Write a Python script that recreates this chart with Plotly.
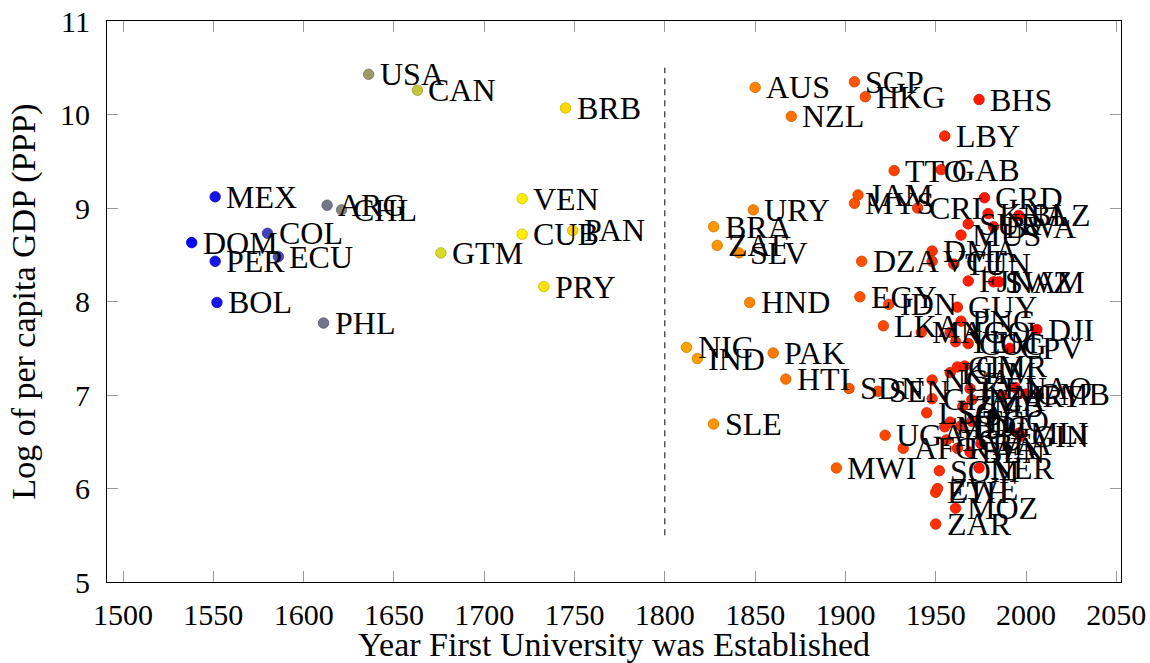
import plotly.graph_objects as go

# Country codes, founding year of the first university, log GDP per capita (PPP)
countries = [
    "DOM", "MEX", "PER", "BOL", "COL", "ECU", "PHL", "ARG", "CHL", "USA",
    "CAN", "GTM", "VEN", "CUB", "PRY", "BRB", "PAN", "NIC", "IND", "SLE",
    "BRA", "ZAF", "SLV", "HND", "URY", "AUS", "PAK", "HTI", "NZL", "MWI",
    "SDN", "MYS", "SGP", "JAM", "EGY", "DZA", "HKG", "SEN", "LKA", "UGA",
    "IDN", "TTO", "AFG", "CRI", "MNG", "LSO", "NGA", "GHA", "DMA", "VCT",
    "ETH", "ZAR", "ZWE", "SOM", "GAB", "MDG", "LBY", "TCD", "AGO", "NPL",
    "KHM", "TUN", "YEM", "MOZ", "GUY", "CIV", "RWA", "BDI", "PNG", "MUS",
    "ZMB", "CMR", "SUR", "FJI", "COG", "KEN", "BEN", "TZA", "TGO", "NER",
    "BHS", "BFA", "GRD", "KNA", "BWA", "SWZ", "NAM", "MRT", "CPV", "LAO",
    "MLI", "BLZ", "GIN", "GMB", "DJI",
]
first_university_year = [
    1538, 1551, 1551, 1552, 1580, 1586, 1611, 1613, 1621, 1636,
    1663, 1676, 1721, 1721, 1733, 1745, 1749, 1812, 1818, 1827,
    1827, 1829, 1841, 1847, 1849, 1850, 1860, 1867, 1870, 1895,
    1902, 1905, 1905, 1907, 1908, 1909, 1911, 1918, 1921, 1922,
    1924, 1927, 1932, 1940, 1942, 1945, 1948, 1948, 1948, 1948,
    1950, 1950, 1951, 1952, 1953, 1955, 1955, 1956, 1958, 1958,
    1958, 1960, 1961, 1961, 1962, 1962, 1962, 1964, 1964, 1964,
    1965, 1966, 1968, 1968, 1968, 1969, 1969, 1970, 1970, 1974,
    1974, 1975, 1977, 1979, 1982, 1982, 1985, 1987, 1991, 1994,
    1996, 1996, 1997, 2000, 2006,
]
log_gdp_ppp = [
    8.63, 9.12, 8.43, 7.99, 8.73, 8.48, 7.77, 9.03, 8.98, 10.43,
    10.26, 8.52, 9.10, 8.72, 8.16, 10.07, 8.76, 7.51, 7.39, 6.69,
    8.80, 8.60, 8.52, 7.99, 8.98, 10.29, 7.45, 7.17, 9.98, 6.22,
    7.07, 9.05, 10.35, 9.14, 8.05, 8.43, 10.19, 7.04, 7.74, 6.57,
    7.97, 9.40, 6.43, 9.00, 7.67, 6.81, 7.16, 6.96, 8.54, 8.43,
    5.96, 5.62, 6.00, 6.19, 9.41, 6.66, 9.77, 6.52, 7.67, 6.71,
    7.24, 8.40, 7.57, 5.79, 7.94, 7.30, 6.43, 6.67, 7.79, 8.71,
    6.88, 7.31, 8.83, 8.22, 7.55, 7.07, 6.39, 6.95, 6.72, 6.22,
    10.16, 6.48, 9.11, 8.94, 8.80, 8.21, 8.21, 6.99, 7.50, 7.08,
    6.59, 8.92, 6.56, 7.01, 7.70,
]

# Dashed divider at 1800
divider_year = [1800, 1800]
divider_gdp = [5.5, 10.5]

x_ticks = [1500, 1550, 1600, 1650, 1700, 1750, 1800, 1850, 1900, 1950, 2000, 2050]
y_ticks = [5, 6, 7, 8, 9, 10, 11]

# Colour map over the founding year: blue -> yellow -> red
yr_lo, yr_mid, yr_hi = 1538, 1700, 2006
mid_pos = (yr_mid - yr_lo) / (yr_hi - yr_lo)
fill_scale = [[0.0, "rgb(0,0,255)"], [mid_pos, "rgb(255,255,0)"], [1.0, "rgb(255,0,0)"]]
edge_scale = [[0.0, "rgb(0,0,204)"], [mid_pos, "rgb(204,204,0)"], [1.0, "rgb(204,0,0)"]]

FONT = "Liberation Serif"

fig = go.Figure()

fig.add_trace(go.Scatter(
    x=divider_year, y=divider_gdp, mode="lines",
    line=dict(color="black", width=1, dash="6px,5px"),
    hoverinfo="skip", showlegend=False,
))

fig.add_trace(go.Scatter(
    x=first_university_year, y=log_gdp_ppp, mode="markers",
    text=countries,
    marker=dict(
        size=10.5,
        color=first_university_year, colorscale=fill_scale, cmin=yr_lo, cmax=yr_hi,
        line=dict(width=0.8, color=first_university_year, colorscale=edge_scale,
                  cmin=yr_lo, cmax=yr_hi),
    ),
    showlegend=False,
))

annotations = [
    dict(x=xv, y=yv, text=code, xref="x", yref="y", xanchor="left", yanchor="middle",
         xshift=9, yshift=0, showarrow=False,
         font=dict(family=FONT, size=32, color="black"))
    for code, xv, yv in zip(countries, first_university_year, log_gdp_ppp)
]

axis_common = dict(
    showline=True, linecolor="black", linewidth=1.2, mirror="allticks",
    ticks="inside", ticklen=11, tickwidth=1, tickcolor="#9a9a9a",
    showgrid=False, zeroline=False, automargin=False,
    tickfont=dict(family=FONT, size=30, color="black"),
)

fig.update_layout(
    width=1150, height=663,
    margin=dict(l=107, r=29, t=21, b=81),
    paper_bgcolor="white", plot_bgcolor="white",
    annotations=annotations,
    xaxis=dict(
        range=[1491.1, 2052.6], tickvals=x_ticks, ticktext=[str(v) for v in x_ticks],
        title=dict(text="Year First University was Established", standoff=5,
                   font=dict(family=FONT, size=34, color="black")),
        ticklabelstandoff=6,
        **axis_common,
    ),
    yaxis=dict(
        range=[5, 11], tickvals=y_ticks, ticktext=[str(v) for v in y_ticks],
        title=dict(text="Log of per capita GDP (PPP)", standoff=14,
                   font=dict(family=FONT, size=34, color="black")),
        ticklabelstandoff=10,
        **axis_common,
    ),
)

fig.write_html("out.html")
